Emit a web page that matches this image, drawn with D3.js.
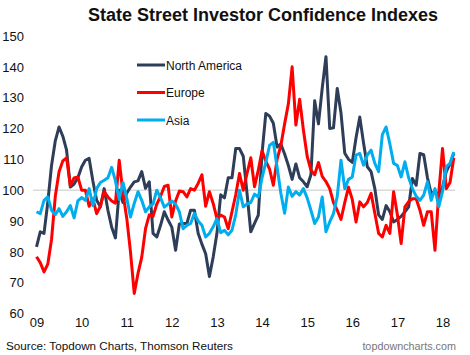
<!DOCTYPE html>
<html>
<head>
<meta charset="utf-8">
<script src="https://cdn.jsdelivr.net/npm/d3@7"></script>
<style>
  html, body { margin: 0; padding: 0; background: #fff; }
  svg { display: block; font-family: "Liberation Sans", Arial, sans-serif; }
</style>
</head>
<body>
<svg id="chart" width="470" height="355"></svg>
<script>
// ---- data (monthly, Jan 2009 .. Apr 2018) ----
const startYear = 2009;
const yearLabels = ["09","10","11","12","13","14","15","16","17","18"];
const yTicks = [60,70,80,90,100,110,120,130,140,150];

const northAmerica = [
  81.6,86.5,86,96,108,116,120.5,117.5,113,101,102,104,
  107.5,109.7,110.3,103,96.7,94.6,100.5,93.5,88,84.5,100,96,
  99,101,102.7,103,106,100.6,102.7,86,84.8,88.6,93,90.3,
  88,80.5,89,89.2,89.2,93.5,93.5,86,82.5,79.4,72,78.3,
  86,98.5,97.5,104,104,113.5,113.5,111,99,86.5,89.2,91.9,
  112,124.9,124,121.7,114,115,111.7,108,103.5,108.5,104,102.7,
  101.1,105,129,121.5,133,143.3,120,120.2,133,125,112,110,
  109,117,123.7,115.3,107.6,106,100.5,92,90.5,95,93,89.7,
  90.5,91.5,93,94.6,103.8,101.6,111.9,111.5,104,98.9,99.5,98.5,
  101,106,108.5,111.9
];
const europe = [
  78.4,76.5,73.5,76,84,98,106,109.5,110.5,101.5,104,104.3,
  100,100,94.8,97.2,92.4,94.8,99.5,97.8,96.5,95.8,109.7,99,
  91,80,66.5,73,78.3,87.5,92,91.5,95.5,98,101.2,101.6,
  91.3,96.5,99.7,99.5,97.8,100.5,100,102.2,105,94.8,99.5,95.7,
  90.8,91.9,91.3,87.5,93,98.5,105.4,100,105.4,110.5,101.1,106.5,
  112.8,109.4,106.8,101.6,110,114.5,121.5,128,140,121.1,129.5,119.5,
  111,106.5,105,109,104.5,102.8,100.5,96,93.5,90.5,96,101,
  97,89.7,96.2,94.6,96,99,92.5,86,84.8,88.6,86,99.5,
  92,82.7,94.6,96.3,97.2,97.2,93.5,88.6,93,93,80.5,99,
  113.5,100.5,102.5,110.5
];
const asia = [
  93,92.4,96.7,97.8,93.5,92,94,91.5,93,95,91,96.5,
  97.6,96.7,100.5,95,100.5,102.5,103.2,104,107.4,103,97,102.5,
  97.5,91.3,95.7,99.5,96.7,93,94.6,95.5,100,97.5,94.5,95.5,
  96.5,95.5,93,87.5,88.6,89.2,92.5,90,88.6,84.8,86,88.1,
  90.8,86.2,87,85.5,87,92,100,94.6,95.5,96,98.7,97.8,
  104,109,114.5,115.5,107.5,99,92.5,101,98,99.5,98.4,100.5,
  97.5,93.5,89.2,91.3,97.8,86.5,89.7,92.4,98,109.7,100.5,103.5,
  104.3,111.4,111.9,108.1,111.4,113,108.7,106,118,120.5,115,108.7,
  108,104.3,109.2,104,100.5,98,96.7,98.4,102.7,96.7,100.5,94.6,
  99.5,107.6,108.7,112.4
];

const seriesNames = ["North America","Europe","Asia"];
const seriesColors = ["#2e3d58","#ff0000","#00aeef"];
const seriesData = [northAmerica, europe, asia];

const titleText = "State Street Investor Confidence Indexes";
const sourceText = "Source: Topdown Charts, Thomson Reuters";
const siteText = "topdowncharts.com";

// ---- drawing ----
const svg = d3.select("#chart");
const plotLeft = 33, plotRight = 455;

const x = d3.scaleLinear().domain([0, 108]).range([36.5, 442.5]);
const y = d3.scaleLinear().domain([60, 150]).range([313.5, 36]);

// title
svg.append("text")
  .attr("x", 263).attr("y", 21)
  .attr("text-anchor", "middle")
  .attr("font-size", 18).attr("font-weight", "bold")
  .attr("fill", "#111")
  .text(titleText);

// 100 reference line
svg.append("line")
  .attr("x1", plotLeft).attr("x2", plotRight)
  .attr("y1", y(100)).attr("y2", y(100))
  .attr("stroke", "#d9d9d9").attr("stroke-width", 1.5);

// y axis
const yAxis = d3.axisLeft(y).tickValues(yTicks).tickSize(0).tickPadding(0);
const gy = svg.append("g").attr("transform", "translate(24,0)").call(yAxis);
gy.select(".domain").remove();
gy.selectAll("text").attr("font-size", 13).attr("fill", "#111")
  .attr("font-family", "Liberation Sans, Arial, sans-serif");

// x axis
const xAxis = d3.axisBottom(x)
  .tickValues(yearLabels.map((d, i) => i * 12))
  .tickFormat((d, i) => yearLabels[i])
  .tickSize(0).tickPadding(0);
const gx = svg.append("g").attr("transform", "translate(0,318)").call(xAxis);
gx.select(".domain").remove();
gx.selectAll("text").attr("font-size", 13).attr("fill", "#111")
  .attr("font-family", "Liberation Sans, Arial, sans-serif");

// lines
const line = d3.line()
  .x((d, i) => x(i))
  .y(d => y(d));

svg.append("g").selectAll("path")
  .data(seriesData)
  .join("path")
  .attr("d", line)
  .attr("fill", "none")
  .attr("stroke", (d, i) => seriesColors[i])
  .attr("stroke-width", 3)
  .attr("stroke-linejoin", "round");

// legend
const legend = svg.append("g");
seriesNames.forEach((name, i) => {
  const ly = 65 + i * 27.5;
  legend.append("line")
    .attr("x1", 137).attr("x2", 165)
    .attr("y1", ly).attr("y2", ly)
    .attr("stroke", seriesColors[i]).attr("stroke-width", 3);
  legend.append("text")
    .attr("x", 166).attr("y", ly + 4.5)
    .attr("font-size", 12).attr("fill", "#111")
    .text(name);
});

// footer
svg.append("text")
  .attr("x", 6).attr("y", 350)
  .attr("font-size", 11.7).attr("fill", "#111")
  .text(sourceText);
svg.append("text")
  .attr("x", 456).attr("y", 350)
  .attr("text-anchor", "end")
  .attr("font-size", 10.8).attr("fill", "#777")
  .text(siteText);
</script>
</body>
</html>
